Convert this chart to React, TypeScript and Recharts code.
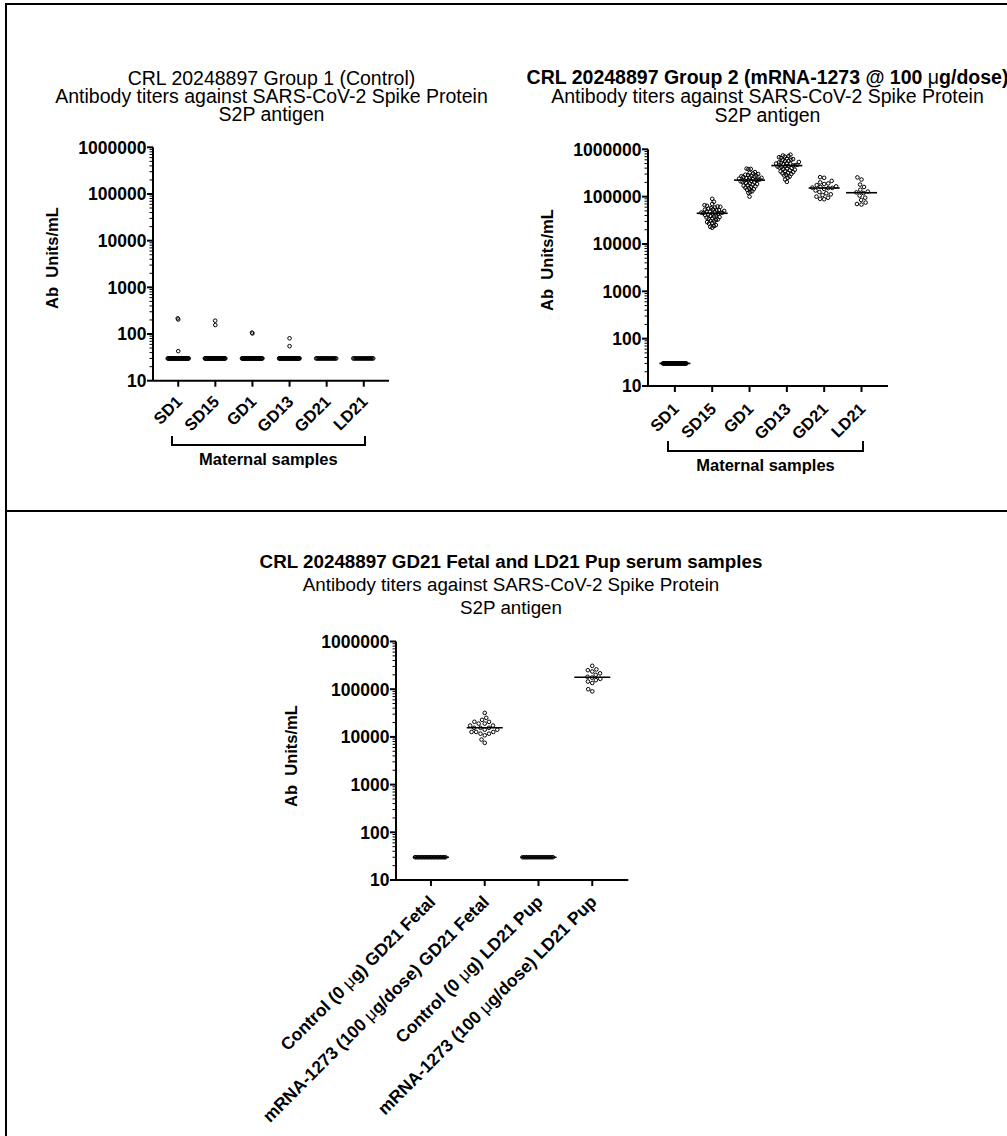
import React from 'react';
import { ScatterChart, Scatter, XAxis, YAxis } from 'recharts';

const FONT = "'Liberation Sans', Arial, Helvetica, sans-serif";

// ---------- tick labels / categories ----------
const majorTicks = [10, 100, 1000, 10000, 100000, 1000000];
const maternalCategories = ['SD1', 'SD15', 'GD1', 'GD13', 'GD21', 'LD21'];
const offspringCategories = [
  'Control (0 μg) GD21 Fetal',
  'mRNA-1273 (100 μg/dose) GD21 Fetal',
  'Control (0 μg) LD21 Pup',
  'mRNA-1273 (100 μg/dose) LD21 Pup',
];

// ---------- Group 1 (Control) ----------
const ctlSD1 = [
  30, 30, 30, 30, 30, 30, 30, 30, 30, 30,
  30, 30, 30, 30, 30, 30, 30, 30, 30, 30,
  30, 30, 30, 30, 30, 30, 30, 30, 30, 30,
  30, 30, 30, 30, 30, 30, 30, 30, 30, 30,
  30, 43, 205, 217,
];
const ctlSD15 = [
  30, 30, 30, 30, 30, 30, 30, 30, 30, 30,
  30, 30, 30, 30, 30, 30, 30, 30, 30, 30,
  30, 30, 30, 30, 30, 30, 30, 30, 30, 30,
  30, 30, 30, 30, 30, 30, 30, 30, 30, 30,
  30, 30, 156, 193,
];
const ctlGD1 = [
  30, 30, 30, 30, 30, 30, 30, 30, 30, 30,
  30, 30, 30, 30, 30, 30, 30, 30, 30, 30,
  30, 30, 30, 30, 30, 30, 30, 30, 30, 30,
  30, 30, 30, 30, 30, 30, 30, 30, 30, 30,
  30, 30, 103, 107,
];
const ctlGD13 = [
  30, 30, 30, 30, 30, 30, 30, 30, 30, 30,
  30, 30, 30, 30, 30, 30, 30, 30, 30, 30,
  30, 30, 30, 30, 30, 30, 30, 30, 30, 30,
  30, 30, 30, 30, 30, 30, 30, 30, 30, 30,
  30, 30, 55, 81,
];
const ctlGD21 = [
  30, 30, 30, 30, 30, 30, 30, 30, 30, 30,
  30, 30, 30, 30, 30, 30, 30, 30, 30, 30,
  30, 30,
];
const ctlLD21 = [
  30, 30, 30, 30, 30, 30, 30, 30, 30, 30,
  30, 30, 30, 30, 30, 30, 30, 30, 30, 30,
];

// ---------- Group 2 (mRNA-1273 @ 100 µg/dose) ----------
const mrnaSD1 = [
  30, 30, 30, 30, 30, 30, 30, 30, 30, 30,
  30, 30, 30, 30, 30, 30, 30, 30, 30, 30,
  30, 30, 30, 30, 30, 30, 30, 30, 30, 30,
  30, 30, 30, 30, 30, 30, 30, 30, 30, 30,
  30, 30, 30, 30,
];
const mrnaSD15 = [
  90000, 78000, 70000, 66000, 64000, 62000, 61000, 59000, 57000, 56000,
  54000, 53000, 52000, 51000, 50000, 49000, 48000, 47000, 46000, 46000,
  45000, 45000, 44000, 43000, 42000, 41000, 40000, 39000, 38000, 37000,
  36000, 35000, 34000, 33000, 32000, 31000, 30000, 29000, 28000, 27000,
  25000, 24000, 23000, 22000,
];
const mrnaGD1 = [
  390000, 385000, 380000, 330000, 320000, 310000, 300000, 290000, 285000, 280000,
  275000, 270000, 265000, 260000, 255000, 250000, 245000, 240000, 235000, 230000,
  228000, 225000, 222000, 218000, 215000, 210000, 205000, 200000, 195000, 190000,
  185000, 180000, 175000, 170000, 165000, 160000, 155000, 150000, 145000, 140000,
  130000, 125000, 120000, 100000,
];
const mrnaGD13 = [
  770000, 740000, 720000, 700000, 680000, 660000, 640000, 620000, 600000, 590000,
  570000, 560000, 540000, 530000, 520000, 510000, 500000, 490000, 480000, 470000,
  460000, 455000, 450000, 440000, 430000, 420000, 410000, 400000, 390000, 380000,
  370000, 360000, 350000, 340000, 330000, 320000, 310000, 300000, 290000, 280000,
  265000, 250000, 230000, 205000,
];
const mrnaGD21 = [
  258000, 250000, 215000, 200000, 190000, 185000, 175000, 165000, 160000, 155000,
  153000, 151000, 145000, 135000, 125000, 118000, 112000, 108000, 100000, 95000,
  90000, 88000,
];
const mrnaLD21 = [
  255000, 230000, 180000, 160000, 140000, 128000, 123000, 119000, 105000, 95000,
  85000, 75000, 70000, 68000,
];

// ---------- GD21 fetal and LD21 pup ----------
const ctlFetal = [
  30, 30, 30, 30, 30, 30, 30, 30, 30, 30,
  30, 30, 30, 30, 30, 30, 30, 30, 30, 30,
  30, 30,
];
const mrnaFetal = [
  31900, 25100, 22800, 20700, 20700, 19000, 19000, 17300, 17300, 15500,
  15500, 15500, 14200, 14200, 12700, 12700, 12700, 11700, 11700, 10800,
  8800, 7500,
];
const ctlPup = [
  30, 30, 30, 30, 30, 30, 30, 30, 30, 30,
  30, 30, 30, 30, 30, 30, 30, 30, 30, 30,
];
const mrnaPup = [
  309000, 260000, 250000, 235000, 215000, 200000, 182000, 175000, 165000, 155000,
  145000, 135000, 100000, 90000,
];

// ---------- helpers ----------
const allTicks: number[] = [];
majorTicks.forEach((m, i) => {
  allTicks.push(m);
  if (i < majorTicks.length - 1) for (let k = 2; k <= 9; k++) allTicks.push(m * k);
});

function median(vals: number[]): number {
  const s = [...vals].sort((a, b) => a - b);
  const n = s.length;
  return n % 2 ? s[(n - 1) / 2] : (s[n / 2 - 1] + s[n / 2]) / 2;
}

const DIAM = 4.6;

function swarm(vals: number[], pxPerDecade: number, cap: number): number[] {
  const idx = vals.map((_, i) => i).sort((a, b) => vals[a] - vals[b]);
  const placed: { x: number; y: number }[] = [];
  const out: number[] = vals.map(() => 0);
  idx.forEach((i, n) => {
    const y = Math.log10(vals[i]) * pxPerDecade;
    const cands = [0];
    placed.forEach((p) => {
      const dy = Math.abs(p.y - y);
      if (dy < DIAM) {
        const dx = Math.sqrt(DIAM * DIAM - dy * dy);
        cands.push(p.x + dx, p.x - dx);
      }
    });
    const ok = cands.filter((c) =>
      placed.every((p) => (p.x - c) ** 2 + (p.y - y) ** 2 >= DIAM * DIAM - 1e-6)
    );
    ok.sort((a, b) => {
      const d = Math.abs(a) - Math.abs(b);
      if (Math.abs(d) > 1e-6) return d;
      return n % 2 ? a - b : b - a;
    });
    const x = ok[0];
    placed.push({ x, y });
    out[i] = x;
  });
  const m = Math.max(...out.map((o) => Math.abs(o)));
  const s = m > cap ? cap / m : 1;
  return out.map((o) => o * s);
}

function renderLabel(label: string) {
  const parts = label.split('μ');
  const nodes: React.ReactNode[] = [];
  parts.forEach((p, i) => {
    if (i > 0)
      nodes.push(
        <tspan key={'m' + i} fontWeight="normal">
          μ
        </tspan>
      );
    nodes.push(<tspan key={'p' + i}>{p}</tspan>);
  });
  return nodes;
}

const Dot = (props: any) => (
  <circle cx={props.cx} cy={props.cy} r={1.8} fill="none" stroke="#000" strokeWidth={1} />
);

const YTick = (props: any) => {
  const { x, y, payload } = props;
  const v = payload.value;
  const major = majorTicks.indexOf(v) >= 0;
  return (
    <g>
      <line x1={x - (major ? 6 : 3.5)} y1={y} x2={x} y2={y} stroke="#000" strokeWidth={major ? 2 : 1} />
      {major && (
        <text
          x={x - 6.5}
          y={y}
          dy="0.36em"
          textAnchor="end"
          fontFamily={FONT}
          fontWeight="bold"
          fontSize={17.5}
          fill="#000"
        >
          {String(v)}
        </text>
      )}
    </g>
  );
};

type PanelCfg = {
  box: { left: number; top: number; width: number; height: number };
  plot: { left: number; right: number; top: number; bottom: number };
  domain: [number, number];
  categories: string[];
  groups: number[][];
  cap: number;
  medianHalf: number;
  xFont: number;
  xdx: number;
  xdy: number;
  xAxisHeight: number;
};

function Panel({ cfg }: { cfg: PanelCfg }) {
  const { box, plot, domain, categories, groups } = cfg;
  const pxPerUnit = (plot.right - plot.left) / (domain[1] - domain[0]);
  const pxPerDecade = (plot.bottom - plot.top) / 5;
  const points: { x: number; y: number }[] = [];
  groups.forEach((vals, gi) => {
    const offs = swarm(vals, pxPerDecade, cfg.cap);
    vals.forEach((v, k) => points.push({ x: gi + offs[k] / pxPerUnit, y: v }));
  });
  const medians = groups.map((vals, gi) => ({ x: gi, y: median(vals) }));
  const MedianShape = (props: any) => (
    <line
      x1={props.cx - cfg.medianHalf}
      x2={props.cx + cfg.medianHalf}
      y1={props.cy}
      y2={props.cy}
      stroke="#000"
      strokeWidth={1.6}
    />
  );
  const XTick = (props: any) => {
    const { x, y, payload } = props;
    const lbl = categories[payload.value];
    return (
      <g>
        <line x1={x} y1={y} x2={x} y2={y + 6} stroke="#000" strokeWidth={2} />
        <text
          transform={`translate(${x + cfg.xdx},${y + cfg.xdy}) rotate(-45)`}
          textAnchor="end"
          fontFamily={FONT}
          fontWeight="bold"
          fontSize={cfg.xFont}
          fill="#000"
        >
          {renderLabel(lbl)}
        </text>
      </g>
    );
  };
  const yAxisWidth = plot.left - box.left;
  const marginTop = plot.top - box.top;
  const marginRight = box.left + box.width - plot.right;
  const marginBottom = box.top + box.height - plot.bottom - cfg.xAxisHeight;
  return (
    <div style={{ position: 'absolute', left: box.left, top: box.top }}>
      <ScatterChart
        width={box.width}
        height={box.height}
        margin={{ top: marginTop, right: marginRight, bottom: marginBottom, left: 0 }}
      >
        <XAxis
          type="number"
          dataKey="x"
          domain={domain}
          ticks={categories.map((_, i) => i)}
          interval={0}
          tickSize={0}
          tickMargin={0}
          tickLine={false}
          axisLine={{ stroke: '#000', strokeWidth: 2 }}
          tick={<XTick />}
          height={cfg.xAxisHeight}
        />
        <YAxis
          type="number"
          dataKey="y"
          scale="log"
          domain={[10, 1000000]}
          ticks={allTicks}
          interval={0}
          tickSize={0}
          tickMargin={0}
          tickLine={false}
          axisLine={{ stroke: '#000', strokeWidth: 2 }}
          tick={<YTick />}
          width={yAxisWidth}
        />
        <Scatter data={points} shape={<Dot />} isAnimationActive={false} />
        <Scatter data={medians} shape={<MedianShape />} isAnimationActive={false} />
      </ScatterChart>
    </div>
  );
}

const topLeftCfg: PanelCfg = {
  box: { left: 40, top: 130, width: 370, height: 370 },
  plot: { left: 153, right: 389, top: 147.3, bottom: 380.7 },
  domain: [-0.68, 5.68],
  categories: maternalCategories,
  groups: [ctlSD1, ctlSD15, ctlGD1, ctlGD13, ctlGD21, ctlLD21],
  cap: 10.5,
  medianHalf: 9,
  xFont: 16.5,
  xdx: 5,
  xdy: 22,
  xAxisHeight: 100,
};

const topRightCfg: PanelCfg = {
  box: { left: 530, top: 130, width: 420, height: 370 },
  plot: { left: 648, right: 888, top: 149.3, bottom: 386 },
  domain: [-0.72, 5.71],
  categories: maternalCategories,
  groups: [mrnaSD1, mrnaSD15, mrnaGD1, mrnaGD13, mrnaGD21, mrnaLD21],
  cap: 12,
  medianHalf: 15.5,
  xFont: 16.5,
  xdx: 5,
  xdy: 24,
  xAxisHeight: 100,
};

const bottomCfg: PanelCfg = {
  box: { left: 240, top: 620, width: 440, height: 516 },
  plot: { left: 396, right: 628.3, top: 641.5, bottom: 880 },
  domain: [-0.65, 3.67],
  categories: offspringCategories,
  groups: [ctlFetal, mrnaFetal, ctlPup, mrnaPup],
  cap: 16,
  medianHalf: 18,
  xFont: 17.5,
  xdx: 5.5,
  xdy: 23,
  xAxisHeight: 240,
};

const textBase: React.CSSProperties = {
  position: 'absolute',
  fontFamily: FONT,
  color: '#000',
  whiteSpace: 'pre',
  textAlign: 'center',
};

function Title({
  cx,
  top,
  lines,
  boldFirst,
  fontSize,
  lineHeight,
}: {
  cx: number;
  top: number;
  lines: string[];
  boldFirst: boolean;
  fontSize: number;
  lineHeight: number;
}) {
  return (
    <div style={{ ...textBase, left: cx - 400, width: 800, top, fontSize, lineHeight: lineHeight + 'px' }}>
      {lines.map((l, i) => {
        const parts = l.split('μ');
        return (
          <div key={i} style={{ fontWeight: i === 0 && boldFirst ? 'bold' : 'normal' }}>
            {parts.map((p, j) => (
              <React.Fragment key={j}>
                {j > 0 && <span style={{ fontWeight: 'normal' }}>μ</span>}
                {p}
              </React.Fragment>
            ))}
          </div>
        );
      })}
    </div>
  );
}

function YLabel({ cx, cy }: { cx: number; cy: number }) {
  return (
    <div
      style={{
        ...textBase,
        left: cx,
        top: cy,
        fontSize: 16.5,
        fontWeight: 'bold',
        lineHeight: '17px',
        transform: 'translate(-50%, -50%) rotate(-90deg)',
      }}
    >
      {'Ab  Units/mL'}
    </div>
  );
}

function Bracket({ left, right, top, bottom, labelY }: { left: number; right: number; top: number; bottom: number; labelY: number }) {
  return (
    <>
      <div
        style={{
          position: 'absolute',
          left: left - 1,
          top,
          width: right - left + 2,
          height: bottom - top + 1,
          borderLeft: '2px solid #000',
          borderRight: '2px solid #000',
          borderBottom: '2px solid #000',
          boxSizing: 'border-box',
        }}
      />
      <div
        style={{
          ...textBase,
          left: (left + right) / 2,
          top: labelY,
          fontSize: 16.5,
          fontWeight: 'bold',
          lineHeight: '16.5px',
          transform: 'translate(-50%, -50%)',
        }}
      >
        Maternal samples
      </div>
    </>
  );
}

export default function App() {
  return (
    <div
      style={{
        position: 'absolute',
        left: 0,
        top: 0,
        width: 1007,
        height: 1136,
        overflow: 'hidden',
        background: '#fff',
      }}
    >
      {/* frame */}
      <div style={{ position: 'absolute', left: 5, top: 3, width: 1010, height: 2.4, background: '#000' }} />
      <div style={{ position: 'absolute', left: 5, top: 3, width: 2.4, height: 1140, background: '#000' }} />
      <div style={{ position: 'absolute', left: 5, top: 510, width: 1010, height: 2.4, background: '#000' }} />

      <Title
        cx={271.5}
        top={68.7}
        lines={['CRL 20248897 Group 1 (Control)', 'Antibody titers against SARS-CoV-2 Spike Protein', 'S2P antigen']}
        boldFirst={false}
        fontSize={19.5}
        lineHeight={18}
      />
      <Title
        cx={767.5}
        top={68.4}
        lines={[
          'CRL 20248897 Group 2 (mRNA-1273 @ 100 μg/dose)',
          'Antibody titers against SARS-CoV-2 Spike Protein',
          'S2P antigen',
        ]}
        boldFirst={true}
        fontSize={19.5}
        lineHeight={18.75}
      />
      <Title
        cx={511}
        top={551.3}
        lines={[
          'CRL 20248897 GD21 Fetal and LD21 Pup serum samples',
          'Antibody titers against SARS-CoV-2 Spike Protein',
          'S2P antigen',
        ]}
        boldFirst={true}
        fontSize={18.8}
        lineHeight={22.75}
      />

      <Panel cfg={topLeftCfg} />
      <Panel cfg={topRightCfg} />
      <Panel cfg={bottomCfg} />

      <YLabel cx={51.7} cy={258.3} />
      <YLabel cx={546.7} cy={260} />
      <YLabel cx={290.5} cy={756} />

      <Bracket left={171.7} right={365} top={436} bottom={445} labelY={459.3} />
      <Bracket left={667.7} right={863.3} top={441} bottom={451} labelY={465} />
    </div>
  );
}
